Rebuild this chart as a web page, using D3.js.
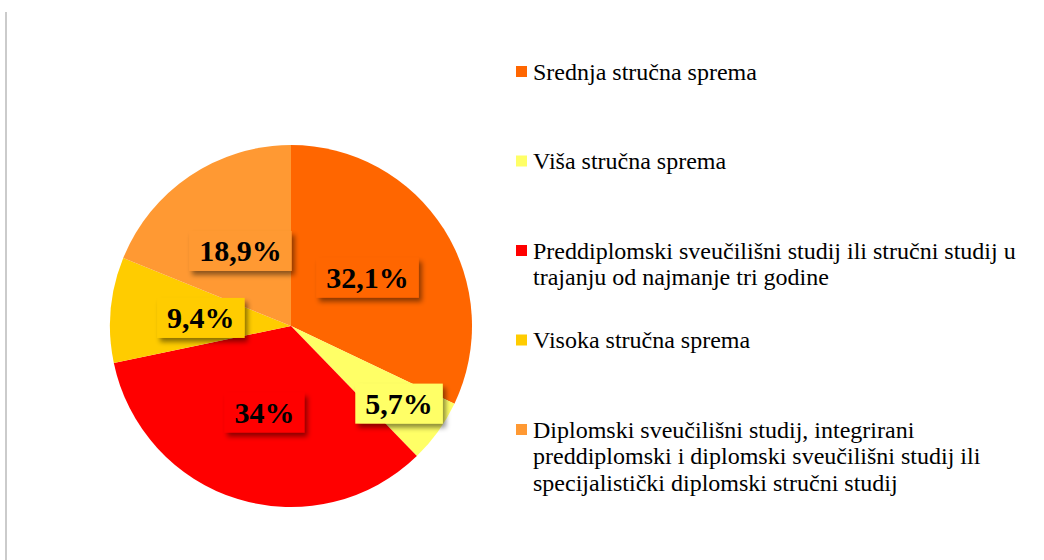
<!DOCTYPE html>
<html>
<head>
<meta charset="utf-8">
<script src="https://cdn.jsdelivr.net/npm/d3@7"></script>
<style>
  html, body { margin: 0; padding: 0; background: #fff; }
  svg { display: block; }
</style>
</head>
<body>
<svg id="chart" width="1044" height="560"></svg>
<script>
// values
let categories = [
  'Srednja stručna sprema',
  'Viša stručna sprema',
  'Preddiplomski sveučilišni studij ili stručni studij u\ntrajanju od najmanje tri godine',
  'Visoka stručna sprema',
  'Diplomski sveučilišni studij, integrirani\npreddiplomski i diplomski sveučilišni studij ili\nspecijalistički diplomski stručni studij'
];
let values = [32.1, 5.7, 34, 9.4, 18.9];
let valueLabels = ['32,1%', '5,7%', '34%', '9,4%', '18,9%'];
let colors = ['#FF6600', '#FFFF66', '#FF0000', '#FFCC00', '#FF9933'];

(function() {
  let svg = d3.select('#chart');
  let cx = 291, cy = 326, radius = 181;
  let serif = '"Times New Roman", "Liberation Serif", serif';

  // thin grey frame line on the left
  svg.append('line')
    .attr('x1', 6).attr('x2', 6)
    .attr('y1', 12).attr('y2', 560)
    .attr('stroke', '#cbcbcb')
    .attr('stroke-width', 2);

  let defs = svg.append('defs');
  let shadow = defs.append('filter')
    .attr('id', 'label-shadow')
    .attr('x', '-30%').attr('y', '-40%')
    .attr('width', '160%').attr('height', '190%');
  shadow.append('feDropShadow')
    .attr('dx', 3).attr('dy', 4)
    .attr('stdDeviation', 2.5)
    .attr('flood-color', '#000')
    .attr('flood-opacity', 0.45);

  let rows = categories.map((c, i) => ({
    category: c, value: values[i], label: valueLabels[i], color: colors[i]
  }));

  let pie = d3.pie().sort(null).value((d) => d.value);
  let arcs = pie(rows);
  let arc = d3.arc().innerRadius(0).outerRadius(radius);
  // narrow slices get their label pushed outward
  let outerLabelArc = d3.arc().innerRadius(radius * 0.47).outerRadius(radius);

  let pieGroup = svg.append('g')
    .attr('transform', `translate(${cx},${cy})`);

  pieGroup.selectAll('.slice')
    .data(arcs)
    .enter().append('path')
      .attr('class', 'slice')
      .attr('d', arc)
      .attr('fill', (d) => d.data.color);

  //
  // Data labels (boxed, with shadow)
  //
  let fontSize = 30;
  let labelGroups = pieGroup.selectAll('.data-label')
    .data(arcs)
    .enter().append('g')
      .attr('class', 'data-label')
      .attr('transform', (d) => {
        let narrow = (d.endAngle - d.startAngle) < 0.5;
        let [x, y] = narrow ? outerLabelArc.centroid(d) : arc.centroid(d);
        return `translate(${x},${y})`;
      });

  let boxes = labelGroups.append('rect')
    .attr('fill', (d) => d.data.color)
    .attr('filter', 'url(#label-shadow)');

  let texts = labelGroups.append('text')
    .attr('text-anchor', 'middle')
    .attr('y', fontSize * 0.34)
    .attr('font-family', serif)
    .attr('font-weight', 'bold')
    .attr('font-size', fontSize)
    .attr('fill', '#000')
    .text((d) => d.data.label);

  texts.each(function(d) {
    d.textWidth = this.getComputedTextLength();
  });
  boxes
    .attr('x', (d) => -d.textWidth / 2 - 10)
    .attr('y', -20)
    .attr('width', (d) => d.textWidth + 20)
    .attr('height', 40);

  //
  // Legend
  //
  let legendY = d3.scalePoint()
    .domain(categories)
    .range([72, 430]);
  let lineHeight = 26.5;

  let legend = svg.append('g').attr('class', 'legend');
  let items = legend.selectAll('.legend-item')
    .data(rows)
    .enter().append('g')
      .attr('class', 'legend-item')
      .attr('transform', (d) => `translate(516,${legendY(d.category)})`);

  items.append('rect')
    .attr('x', 0).attr('y', -6)
    .attr('width', 11).attr('height', 11)
    .attr('fill', (d) => d.color);

  let legendText = items.append('text')
    .attr('x', 17)
    .attr('font-family', serif)
    .attr('font-size', 24)
    .attr('fill', '#000');

  legendText.selectAll('tspan')
    .data((d) => d.category.split('\n'))
    .enter().append('tspan')
      .attr('x', 17)
      .attr('y', (line, i) => 7.5 + i * lineHeight)
      .text((line) => line);
})();
</script>
</body>
</html>
